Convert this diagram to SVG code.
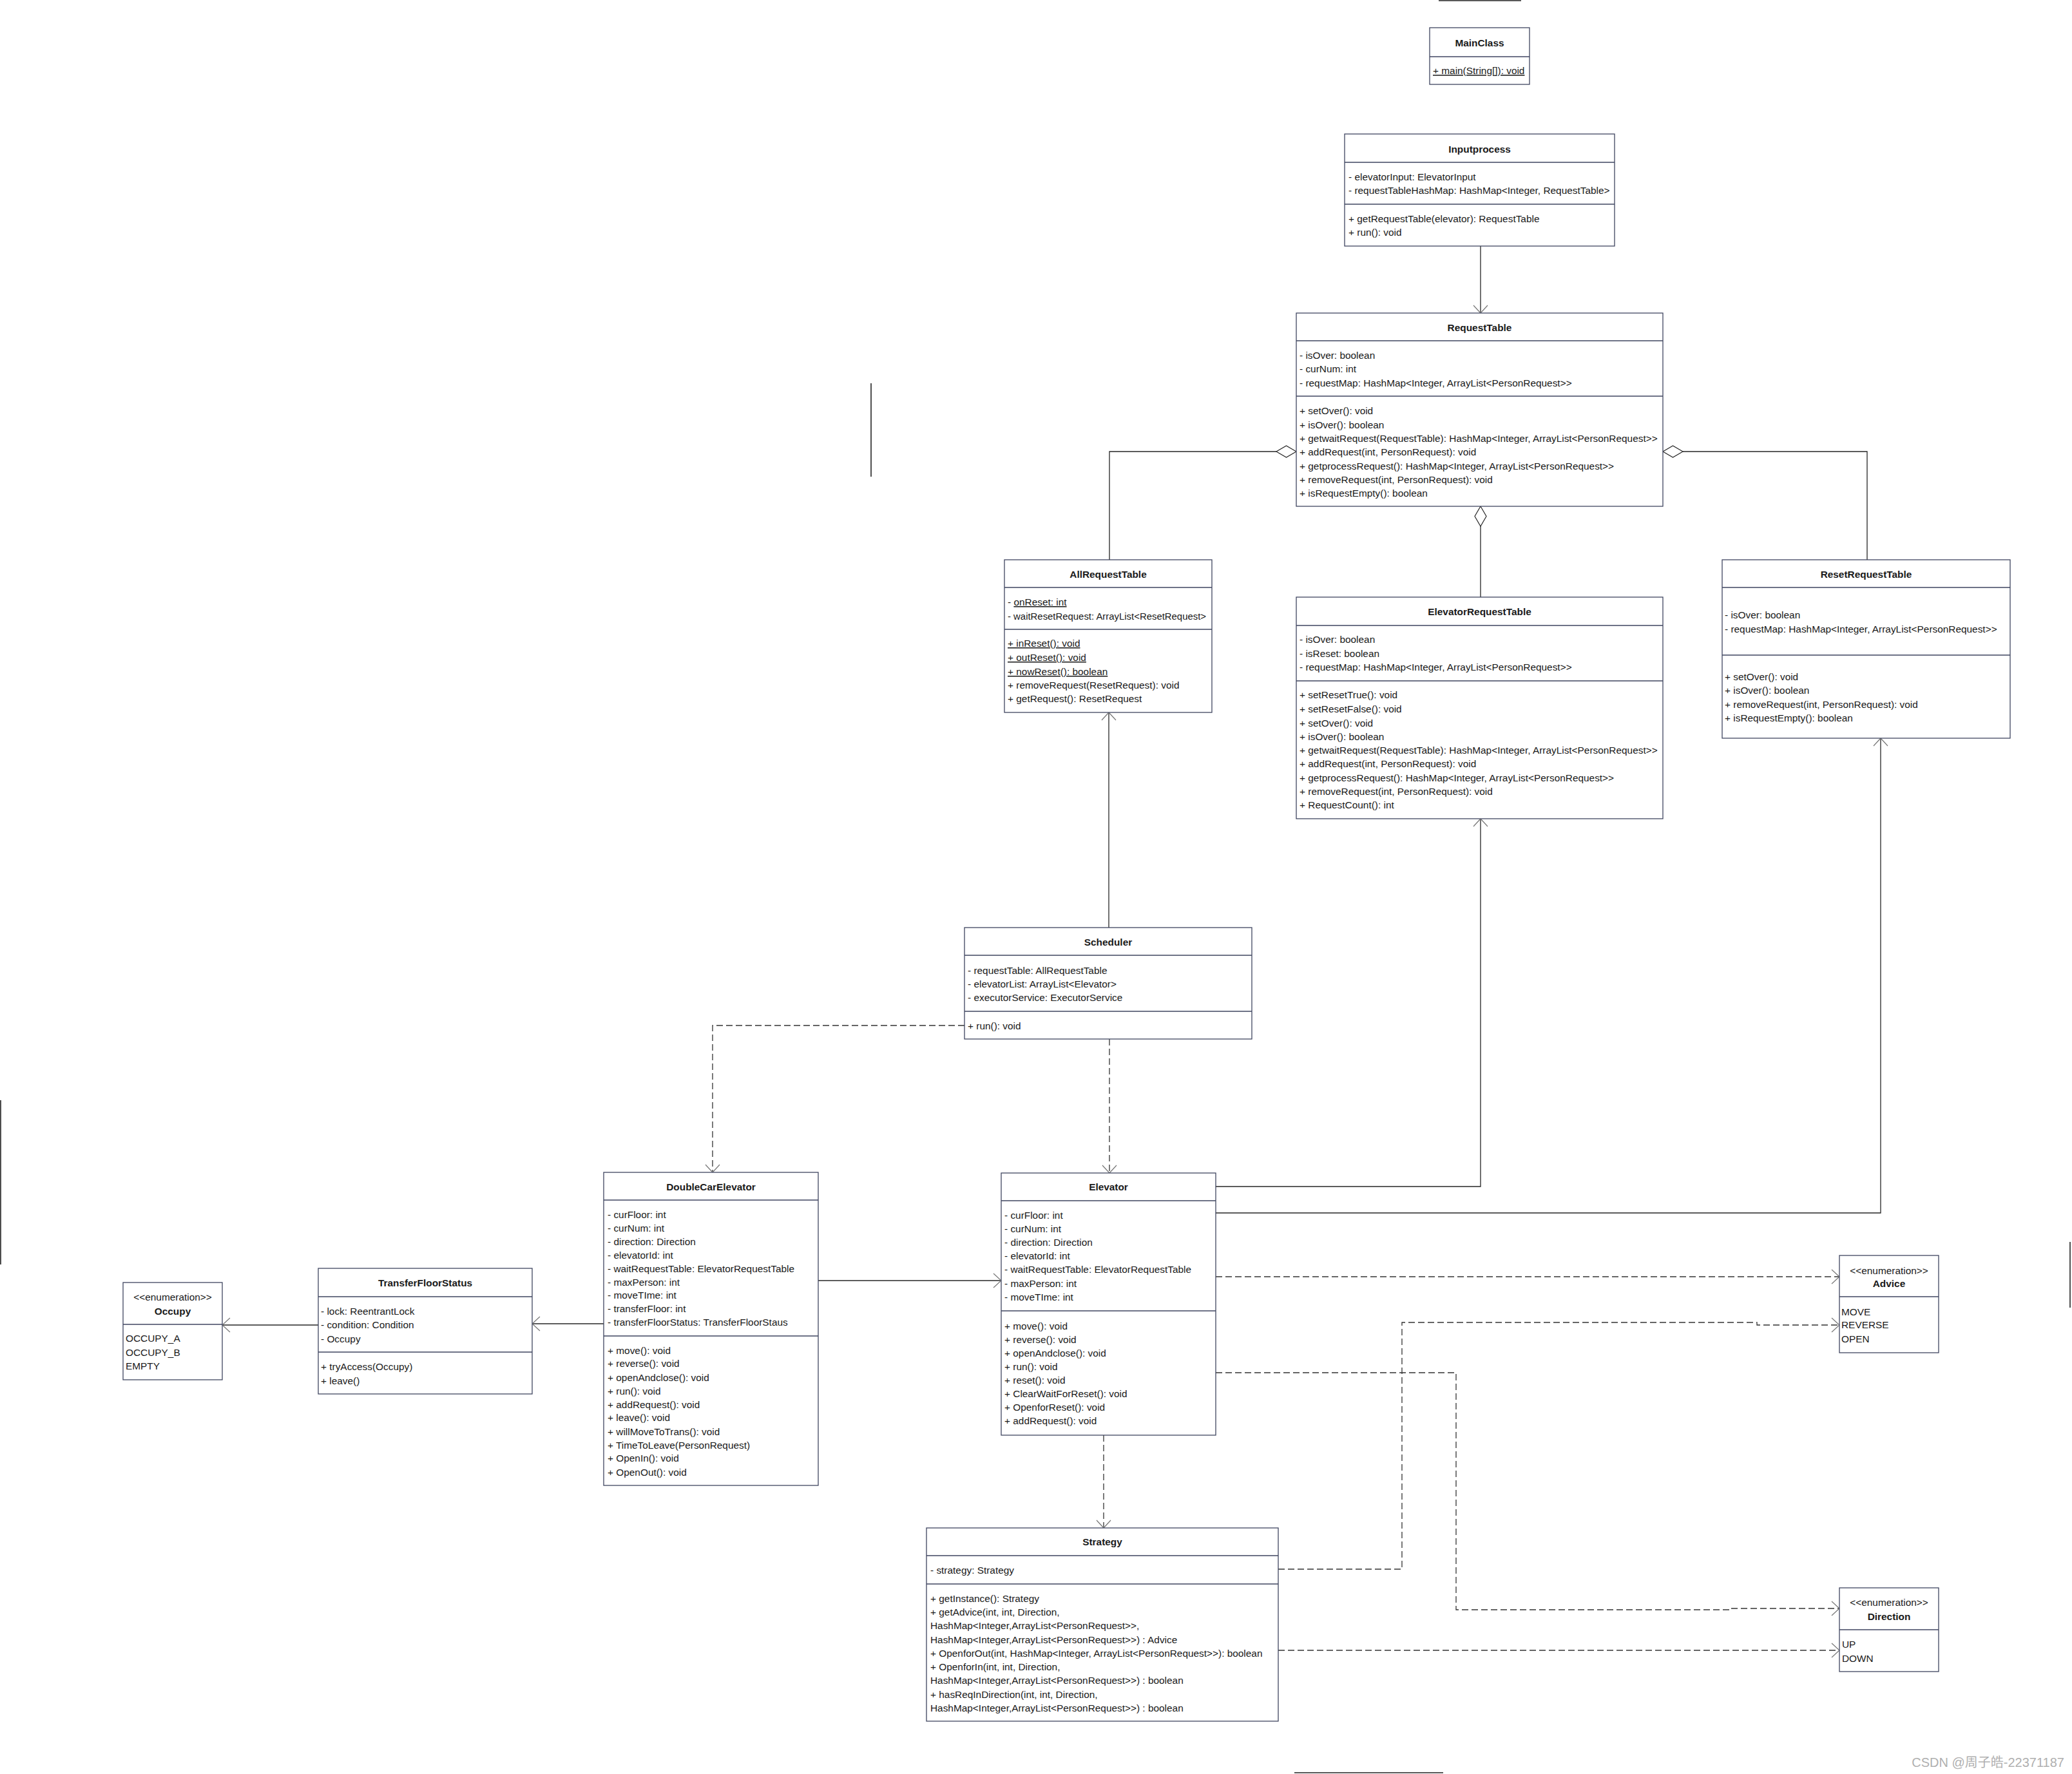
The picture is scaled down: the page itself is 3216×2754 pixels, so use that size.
<svg xmlns="http://www.w3.org/2000/svg" width="3216" height="2754" viewBox="0 0 3216 2754">
<style>
.box{fill:#fff;stroke:#3f4560;stroke-width:1.3}
.dv{stroke:#3f4560;stroke-width:1.3;fill:none}
.t{font-family:"Liberation Sans",Arial,sans-serif;font-size:15.4px;fill:#1a1a1a}
.h{font-weight:bold;text-anchor:middle}
.c{text-anchor:middle}
.u{text-decoration:underline}
.conn{fill:none;stroke:#262626;stroke-width:1.3}
.dash{stroke-dasharray:10 5;stroke:#333}
.dia{fill:#fff;stroke:#262626;stroke-width:1.2}
.stray{stroke:#222;stroke-width:1.6;fill:none}
.wm{font-family:"Liberation Sans","Noto Sans CJK SC",sans-serif;font-size:20px;fill:#b0b0b0;text-anchor:end}
</style>
<defs>
<marker id="arr" viewBox="-14 -12 16 24" refX="0" refY="0" markerWidth="16" markerHeight="24" orient="auto" markerUnits="userSpaceOnUse">
<path d="M-12,-11 L0,0 L-12,11" fill="none" stroke="#777" stroke-width="1.2"/>
</marker>
</defs>
<rect width="3216" height="2754" fill="#fff"/>

<g id="stray-lines">
<path class="stray" d="M2233,1 H2361"/>
<path class="stray" d="M1352,595 V740"/>
<path class="stray" d="M1,1708 V1963"/>
<path class="stray" d="M3213,1928 V2030"/>
<path class="stray" d="M2009,2752 H2240"/>
</g>

<g id="connectors">
<path class="conn" d="M2298,382 V486" marker-end="url(#arr)"/>
<path class="conn" d="M1722,869 V701 H1981"/>
<polygon class="dia" points="2012,701 1996.5,692 1981,701 1996.5,710"/>
<path class="conn" d="M2298,927 V817"/>
<polygon class="dia" points="2298,786 2307,801.5 2298,817 2289,801.5"/>
<path class="conn" d="M2898,869 V701 H2612"/>
<polygon class="dia" points="2581,701 2596.5,692 2612,701 2596.5,710"/>
<path class="conn" d="M1721,1440 V1106" marker-end="url(#arr)"/>
<path class="conn dash" d="M1497,1592 H1106 V1820" marker-end="url(#arr)"/>
<path class="conn dash" d="M1722,1613 V1821" marker-end="url(#arr)"/>
<path class="conn" d="M1270,1988 H1554" marker-end="url(#arr)"/>
<path class="conn" d="M937,2055 H826" marker-end="url(#arr)"/>
<path class="conn" d="M494,2057 H345" marker-end="url(#arr)"/>
<path class="conn" d="M1887,1842 H2298 V1271" marker-end="url(#arr)"/>
<path class="conn" d="M1887,1883 H2919 V1146" marker-end="url(#arr)"/>
<path class="conn dash" d="M1887,1982 H2855" marker-end="url(#arr)"/>
<path class="conn dash" d="M1887,2131 H2260 V2499 H2684 V2497 H2855" marker-end="url(#arr)"/>
<path class="conn dash" d="M1713,2228 V2372" marker-end="url(#arr)"/>
<path class="conn dash" d="M1984,2436 H2176 V2053 H2727 V2057 H2855" marker-end="url(#arr)"/>
<path class="conn dash" d="M1984,2562 H2855" marker-end="url(#arr)"/>
</g>

<g id="MainClass">
<rect class="box" x="2219" y="43" width="155" height="88"/>
<path class="dv" d="M2219,88 H2374"/>
<text class="t h" x="2296.5" y="72">MainClass</text>
<text class="t u" x="2224" y="115">+ main(String[]): void</text>
</g>

<g id="Inputprocess">
<rect class="box" x="2087" y="208" width="419" height="174"/>
<path class="dv" d="M2087,252 H2506 M2087,317 H2506"/>
<text class="t h" x="2296.5" y="237">Inputprocess</text>
<text class="t" x="2093" y="280">- elevatorInput: ElevatorInput</text>
<text class="t" x="2093" y="301">- requestTableHashMap: HashMap&lt;Integer, RequestTable&gt;</text>
<text class="t" x="2093" y="345">+ getRequestTable(elevator): RequestTable</text>
<text class="t" x="2093" y="366">+ run(): void</text>
</g>

<g id="RequestTable">
<rect class="box" x="2012" y="486" width="569" height="300"/>
<path class="dv" d="M2012,529 H2581 M2012,615 H2581"/>
<text class="t h" x="2296.5" y="514">RequestTable</text>
<text class="t" x="2017" y="557">- isOver: boolean</text>
<text class="t" x="2017" y="578">- curNum: int</text>
<text class="t" x="2017" y="600">- requestMap: HashMap&lt;Integer, ArrayList&lt;PersonRequest&gt;&gt;</text>
<text class="t" x="2017" y="643">+ setOver(): void</text>
<text class="t" x="2017" y="665">+ isOver(): boolean</text>
<text class="t" x="2017" y="686">+ getwaitRequest(RequestTable): HashMap&lt;Integer, ArrayList&lt;PersonRequest&gt;&gt;</text>
<text class="t" x="2017" y="707">+ addRequest(int, PersonRequest): void</text>
<text class="t" x="2017" y="729">+ getprocessRequest(): HashMap&lt;Integer, ArrayList&lt;PersonRequest&gt;&gt;</text>
<text class="t" x="2017" y="750">+ removeRequest(int, PersonRequest): void</text>
<text class="t" x="2017" y="771">+ isRequestEmpty(): boolean</text>
</g>

<g id="AllRequestTable">
<rect class="box" x="1559" y="869" width="322" height="237"/>
<path class="dv" d="M1559,912 H1881 M1559,977 H1881"/>
<text class="t h" x="1720" y="897">AllRequestTable</text>
<text class="t" x="1564" y="940">- <tspan class="u">onReset: int</tspan></text>
<text class="t" x="1564" y="962" textLength="308" lengthAdjust="spacingAndGlyphs">- waitResetRequest: ArrayList&lt;ResetRequest&gt;</text>
<text class="t u" x="1564" y="1004">+ inReset(): void</text>
<text class="t u" x="1564" y="1026">+ outReset(): void</text>
<text class="t u" x="1564" y="1048">+ nowReset(): boolean</text>
<text class="t" x="1564" y="1069">+ removeRequest(ResetRequest): void</text>
<text class="t" x="1564" y="1090">+ getRequest(): ResetRequest</text>
</g>

<g id="ElevatorRequestTable">
<rect class="box" x="2012" y="927" width="569" height="344"/>
<path class="dv" d="M2012,971 H2581 M2012,1057 H2581"/>
<text class="t h" x="2296.5" y="955">ElevatorRequestTable</text>
<text class="t" x="2017" y="998">- isOver: boolean</text>
<text class="t" x="2017" y="1020">- isReset: boolean</text>
<text class="t" x="2017" y="1041">- requestMap: HashMap&lt;Integer, ArrayList&lt;PersonRequest&gt;&gt;</text>
<text class="t" x="2017" y="1084">+ setResetTrue(): void</text>
<text class="t" x="2017" y="1106">+ setResetFalse(): void</text>
<text class="t" x="2017" y="1128">+ setOver(): void</text>
<text class="t" x="2017" y="1149">+ isOver(): boolean</text>
<text class="t" x="2017" y="1170">+ getwaitRequest(RequestTable): HashMap&lt;Integer, ArrayList&lt;PersonRequest&gt;&gt;</text>
<text class="t" x="2017" y="1191">+ addRequest(int, PersonRequest): void</text>
<text class="t" x="2017" y="1213">+ getprocessRequest(): HashMap&lt;Integer, ArrayList&lt;PersonRequest&gt;&gt;</text>
<text class="t" x="2017" y="1234">+ removeRequest(int, PersonRequest): void</text>
<text class="t" x="2017" y="1255">+ RequestCount(): int</text>
</g>

<g id="ResetRequestTable">
<rect class="box" x="2673" y="869" width="447" height="277"/>
<path class="dv" d="M2673,912 H3120 M2673,1017 H3120"/>
<text class="t h" x="2896.5" y="897">ResetRequestTable</text>
<text class="t" x="2677" y="960">- isOver: boolean</text>
<text class="t" x="2677" y="982">- requestMap: HashMap&lt;Integer, ArrayList&lt;PersonRequest&gt;&gt;</text>
<text class="t" x="2677" y="1056">+ setOver(): void</text>
<text class="t" x="2677" y="1077">+ isOver(): boolean</text>
<text class="t" x="2677" y="1099">+ removeRequest(int, PersonRequest): void</text>
<text class="t" x="2677" y="1120">+ isRequestEmpty(): boolean</text>
</g>

<g id="Scheduler">
<rect class="box" x="1497" y="1440" width="446" height="173"/>
<path class="dv" d="M1497,1483 H1943 M1497,1570 H1943"/>
<text class="t h" x="1720" y="1468">Scheduler</text>
<text class="t" x="1502" y="1512">- requestTable: AllRequestTable</text>
<text class="t" x="1502" y="1533">- elevatorList: ArrayList&lt;Elevator&gt;</text>
<text class="t" x="1502" y="1554">- executorService: ExecutorService</text>
<text class="t" x="1502" y="1598">+ run(): void</text>
</g>

<g id="DoubleCarElevator">
<rect class="box" x="937" y="1820" width="333" height="486"/>
<path class="dv" d="M937,1863 H1270 M937,2074 H1270"/>
<text class="t h" x="1103.5" y="1848">DoubleCarElevator</text>
<text class="t" x="943" y="1891">- curFloor: int</text>
<text class="t" x="943" y="1912">- curNum: int</text>
<text class="t" x="943" y="1933">- direction: Direction</text>
<text class="t" x="943" y="1954">- elevatorId: int</text>
<text class="t" x="943" y="1975">- waitRequestTable: ElevatorRequestTable</text>
<text class="t" x="943" y="1996">- maxPerson: int</text>
<text class="t" x="943" y="2016">- moveTIme: int</text>
<text class="t" x="943" y="2037">- transferFloor: int</text>
<text class="t" x="943" y="2058">- transferFloorStatus: TransferFloorStaus</text>
<text class="t" x="943" y="2102">+ move(): void</text>
<text class="t" x="943" y="2122">+ reverse(): void</text>
<text class="t" x="943" y="2144">+ openAndclose(): void</text>
<text class="t" x="943" y="2165">+ run(): void</text>
<text class="t" x="943" y="2186">+ addRequest(): void</text>
<text class="t" x="943" y="2206">+ leave(): void</text>
<text class="t" x="943" y="2228">+ willMoveToTrans(): void</text>
<text class="t" x="943" y="2249">+ TimeToLeave(PersonRequest)</text>
<text class="t" x="943" y="2269">+ OpenIn(): void</text>
<text class="t" x="943" y="2291">+ OpenOut(): void</text>
</g>

<g id="TransferFloorStatus">
<rect class="box" x="494" y="1969" width="332" height="195"/>
<path class="dv" d="M494,2013 H826 M494,2099 H826"/>
<text class="t h" x="660" y="1997">TransferFloorStatus</text>
<text class="t" x="498" y="2041">- lock: ReentrantLock</text>
<text class="t" x="498" y="2062">- condition: Condition</text>
<text class="t" x="498" y="2084">- Occupy</text>
<text class="t" x="498" y="2127">+ tryAccess(Occupy)</text>
<text class="t" x="498" y="2149">+ leave()</text>
</g>

<g id="Occupy">
<rect class="box" x="191" y="1991" width="154" height="151"/>
<path class="dv" d="M191,2056 H345"/>
<text class="t c" x="268" y="2019">&lt;&lt;enumeration&gt;&gt;</text>
<text class="t h" x="268" y="2041">Occupy</text>
<text class="t" x="195" y="2083">OCCUPY_A</text>
<text class="t" x="195" y="2105">OCCUPY_B</text>
<text class="t" x="195" y="2126">EMPTY</text>
</g>

<g id="Elevator">
<rect class="box" x="1554" y="1821" width="333" height="407"/>
<path class="dv" d="M1554,1864 H1887 M1554,2035 H1887"/>
<text class="t h" x="1720.5" y="1848">Elevator</text>
<text class="t" x="1559" y="1892">- curFloor: int</text>
<text class="t" x="1559" y="1913">- curNum: int</text>
<text class="t" x="1559" y="1934">- direction: Direction</text>
<text class="t" x="1559" y="1955">- elevatorId: int</text>
<text class="t" x="1559" y="1976">- waitRequestTable: ElevatorRequestTable</text>
<text class="t" x="1559" y="1998">- maxPerson: int</text>
<text class="t" x="1559" y="2019">- moveTIme: int</text>
<text class="t" x="1559" y="2064">+ move(): void</text>
<text class="t" x="1559" y="2085">+ reverse(): void</text>
<text class="t" x="1559" y="2106">+ openAndclose(): void</text>
<text class="t" x="1559" y="2127">+ run(): void</text>
<text class="t" x="1559" y="2148">+ reset(): void</text>
<text class="t" x="1559" y="2169">+ ClearWaitForReset(): void</text>
<text class="t" x="1559" y="2190">+ OpenforReset(): void</text>
<text class="t" x="1559" y="2211">+ addRequest(): void</text>
</g>

<g id="Advice">
<rect class="box" x="2855" y="1949" width="154" height="151"/>
<path class="dv" d="M2855,2013 H3009"/>
<text class="t c" x="2932" y="1978">&lt;&lt;enumeration&gt;&gt;</text>
<text class="t h" x="2932" y="1998">Advice</text>
<text class="t" x="2858" y="2042">MOVE</text>
<text class="t" x="2858" y="2062">REVERSE</text>
<text class="t" x="2858" y="2084">OPEN</text>
</g>

<g id="Strategy">
<rect class="box" x="1438" y="2372" width="546" height="300"/>
<path class="dv" d="M1438,2415 H1984 M1438,2459 H1984"/>
<text class="t h" x="1711" y="2399">Strategy</text>
<text class="t" x="1444" y="2443">- strategy: Strategy</text>
<text class="t" x="1444" y="2487">+ getInstance(): Strategy</text>
<text class="t" x="1444" y="2508">+ getAdvice(int, int, Direction,</text>
<text class="t" x="1444" y="2529">HashMap&lt;Integer,ArrayList&lt;PersonRequest&gt;&gt;,</text>
<text class="t" x="1444" y="2551">HashMap&lt;Integer,ArrayList&lt;PersonRequest&gt;&gt;) : Advice</text>
<text class="t" x="1444" y="2572">+ OpenforOut(int, HashMap&lt;Integer, ArrayList&lt;PersonRequest&gt;&gt;): boolean</text>
<text class="t" x="1444" y="2593">+ OpenforIn(int, int, Direction,</text>
<text class="t" x="1444" y="2614">HashMap&lt;Integer,ArrayList&lt;PersonRequest&gt;&gt;) : boolean</text>
<text class="t" x="1444" y="2636">+ hasReqInDirection(int, int, Direction,</text>
<text class="t" x="1444" y="2657">HashMap&lt;Integer,ArrayList&lt;PersonRequest&gt;&gt;) : boolean</text>
</g>

<g id="Direction">
<rect class="box" x="2855" y="2465" width="154" height="130"/>
<path class="dv" d="M2855,2530 H3009"/>
<text class="t c" x="2932" y="2493">&lt;&lt;enumeration&gt;&gt;</text>
<text class="t h" x="2932" y="2515">Direction</text>
<text class="t" x="2859" y="2558">UP</text>
<text class="t" x="2859" y="2580">DOWN</text>
</g>

<text class="wm" x="3204" y="2743">CSDN @周子皓-22371187</text>
</svg>
